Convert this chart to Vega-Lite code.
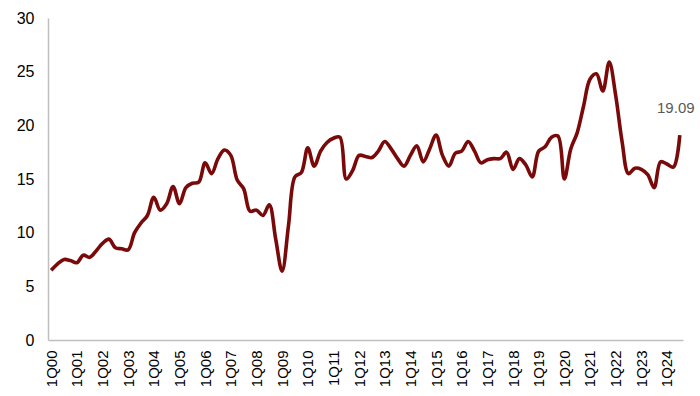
{
  "$schema": "https://vega.github.io/schema/vega-lite/v6.json",
  "width": 635,
  "height": 322,
  "autosize": "none",
  "padding": {"left": 48, "top": 18, "right": 17, "bottom": 56},
  "background": "white",
  "config": {"view": {"stroke": null}, "font": "Liberation Sans"},
  "data": {"values": [
    {"q":"1Q00","v":6.5},{"q":"2Q00","v":7.1},{"q":"3Q00","v":7.5},{"q":"4Q00","v":7.4},
    {"q":"1Q01","v":7.2},{"q":"2Q01","v":7.9},{"q":"3Q01","v":7.7},{"q":"4Q01","v":8.3},
    {"q":"1Q02","v":9.0},{"q":"2Q02","v":9.4},{"q":"3Q02","v":8.6},{"q":"4Q02","v":8.5},
    {"q":"1Q03","v":8.4},{"q":"2Q03","v":10.0},{"q":"3Q03","v":10.9},{"q":"4Q03","v":11.6},
    {"q":"1Q04","v":13.3},{"q":"2Q04","v":12.1},{"q":"3Q04","v":12.7},{"q":"4Q04","v":14.3},
    {"q":"1Q05","v":12.7},{"q":"2Q05","v":14.2},{"q":"3Q05","v":14.6},{"q":"4Q05","v":14.7},
    {"q":"1Q06","v":16.5},{"q":"2Q06","v":15.5},{"q":"3Q06","v":16.9},{"q":"4Q06","v":17.7},
    {"q":"1Q07","v":17.2},{"q":"2Q07","v":14.9},{"q":"3Q07","v":14.1},{"q":"4Q07","v":12.0},
    {"q":"1Q08","v":12.1},{"q":"2Q08","v":11.6},{"q":"3Q08","v":12.6},{"q":"4Q08","v":9.4},
    {"q":"1Q09","v":6.4},{"q":"2Q09","v":10.7},{"q":"3Q09","v":15.2},{"q":"4Q09","v":15.6},
    {"q":"1Q10","v":17.9},{"q":"2Q10","v":16.2},{"q":"3Q10","v":17.6},{"q":"4Q10","v":18.4},
    {"q":"1Q11","v":18.8},{"q":"2Q11","v":18.9},{"q":"3Q11","v":15.0},{"q":"4Q11","v":15.8},
    {"q":"1Q12","v":17.2},{"q":"2Q12","v":17.1},{"q":"3Q12","v":17.0},{"q":"4Q12","v":17.6},
    {"q":"1Q13","v":18.5},{"q":"2Q13","v":17.8},{"q":"3Q13","v":16.9},{"q":"4Q13","v":16.2},
    {"q":"1Q14","v":17.2},{"q":"2Q14","v":18.1},{"q":"3Q14","v":16.6},{"q":"4Q14","v":17.8},
    {"q":"1Q15","v":19.1},{"q":"2Q15","v":17.2},{"q":"3Q15","v":16.2},{"q":"4Q15","v":17.4},
    {"q":"1Q16","v":17.6},{"q":"2Q16","v":18.5},{"q":"3Q16","v":17.6},{"q":"4Q16","v":16.5},
    {"q":"1Q17","v":16.8},{"q":"2Q17","v":16.9},{"q":"3Q17","v":16.9},{"q":"4Q17","v":17.5},
    {"q":"1Q18","v":15.9},{"q":"2Q18","v":16.9},{"q":"3Q18","v":16.3},{"q":"4Q18","v":15.2},
    {"q":"1Q19","v":17.6},{"q":"2Q19","v":18.0},{"q":"3Q19","v":18.9},{"q":"4Q19","v":19.0},
    {"q":"1Q20","v":15.0},{"q":"2Q20","v":17.8},{"q":"3Q20","v":19.3},{"q":"4Q20","v":21.8},
    {"q":"1Q21","v":24.3},{"q":"2Q21","v":24.8},{"q":"3Q21","v":23.2},{"q":"4Q21","v":25.9},
    {"q":"1Q22","v":22.8},{"q":"2Q22","v":18.5},{"q":"3Q22","v":15.5},{"q":"4Q22","v":16.0},
    {"q":"1Q23","v":15.9},{"q":"2Q23","v":15.4},{"q":"3Q23","v":14.2},{"q":"4Q23","v":16.6},
    {"q":"1Q24","v":16.4},{"q":"2Q24","v":16.1},{"q":"3Q24","v":19.09}
  ]},
  "encoding": {
    "x": {
      "field": "q", "type": "ordinal", "sort": null,
      "scale": {"type": "point", "padding": 0.5},
      "axis": {
        "title": null,
        "values": ["1Q00","1Q01","1Q02","1Q03","1Q04","1Q05","1Q06","1Q07","1Q08","1Q09","1Q10","1Q11","1Q12","1Q13","1Q14","1Q15","1Q16","1Q17","1Q18","1Q19","1Q20","1Q21","1Q22","1Q23","1Q24"],
        "labelAngle": -90,
        "labelFontSize": 15,
        "labelColor": "#000000",
        "labelPadding": 10,
        "ticks": false,
        "tickSize": 0,
        "domainColor": "#bfbfbf",
        "domainWidth": 1.5,
        "grid": false
      }
    },
    "y": {
      "field": "v", "type": "quantitative",
      "scale": {"domain": [0, 30], "nice": false},
      "axis": {
        "title": null,
        "values": [0, 5, 10, 15, 20, 25, 30],
        "labelFontSize": 16,
        "labelColor": "#000000",
        "labelPadding": 14,
        "ticks": false,
        "tickSize": 0,
        "domainColor": "#bfbfbf",
        "domainWidth": 1.5,
        "grid": false
      }
    }
  },
  "layer": [
    {
      "mark": {"type": "line", "interpolate": "catmull-rom", "color": "#7a0a0a", "strokeWidth": 3.6}
    },
    {
      "transform": [{"filter": "datum.q === '3Q24'"}],
      "mark": {"type": "text", "fontSize": 15, "color": "#595959", "dy": -27, "dx": -4, "align": "center"},
      "encoding": {"text": {"field": "v", "type": "quantitative", "format": ".2f"}}
    }
  ]
}
